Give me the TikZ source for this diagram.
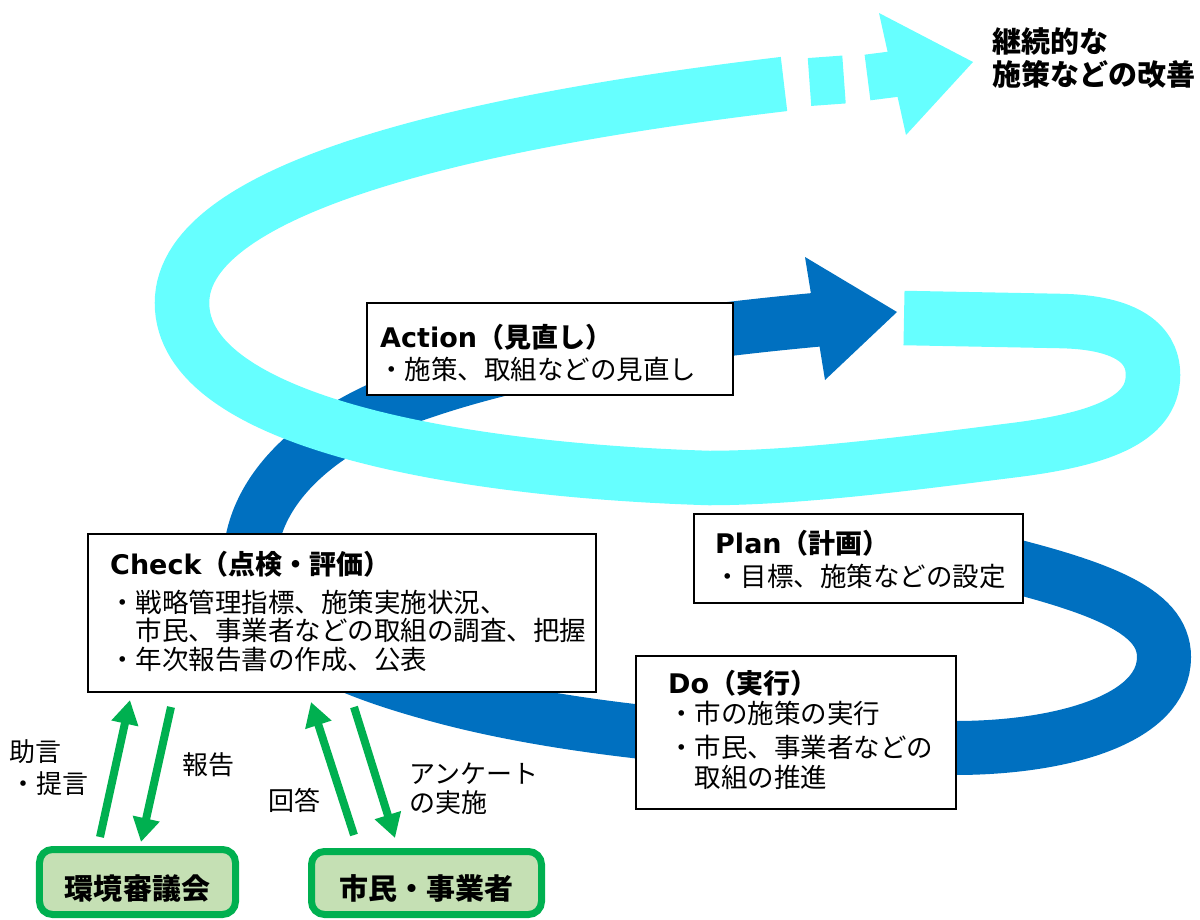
\documentclass[tikz,border=0pt]{standalone}
\usepackage{fontspec}
\setmainfont{Noto Sans CJK JP}
\newfontfamily\lat{DejaVu Sans}
\usetikzlibrary{arrows.meta}
\definecolor{bandblue}{HTML}{0070C0}
\definecolor{bandcyan}{HTML}{66FFFF}
\definecolor{grn}{HTML}{00B050}
\definecolor{grnfill}{HTML}{C5E0B4}
\begin{document}
\begin{tikzpicture}[x=1bp,y=-1bp,
  darkband/.style={draw=bandblue,line width=54bp},
  cyanband/.style={draw=bandcyan,line width=54.5bp},
  infobox/.style={draw=black,line width=2.2bp,fill=white,inner sep=0pt,outer sep=0pt,anchor=north west},
  txt/.style={anchor=base west,inner sep=0pt,font=\fontsize{26.5bp}{28bp}\selectfont},
  ttl/.style={anchor=base west,inner sep=0pt,font=\fontsize{27bp}{28bp}\selectfont\bfseries},
  lbl/.style={anchor=base west,inner sep=0pt,font=\fontsize{26bp}{28bp}\selectfont},
  gtxt/.style={anchor=base,inner sep=0pt,font=\fontsize{29bp}{30bp}\selectfont\bfseries},
  grnbox/.style={draw=grn,line width=7bp,fill=grnfill,rounded corners=13bp,inner sep=0pt},
  grnarrow/.style={draw=grn,line width=8bp,-{Triangle[width=26bp,length=24bp]}},
]
\useasboundingbox (0,0) rectangle (1200,920);

% dark blue PDCA band
\draw[darkband] (960,553) .. controls (1100,585) and (1164,610) .. (1164,657)
  .. controls (1164,720) and (1060,748) .. (955,748)
  .. controls (750,748) and (560,730) .. (430,693)
  .. controls (340,668) and (248,630) .. (250,560)
  .. controls (252,500) and (300,440) .. (400,400)
  .. controls (520,355) and (680,332) .. (825,319);
\fill[bandblue] (805,257) -- (897,312) -- (825,380) -- cycle;

% cyan continuous improvement band
\draw[cyanband] (904,318) -- (1060,321) .. controls (1120,322) and (1153,340) .. (1153,375)
  .. controls (1153,420) and (1100,440) .. (1007,451)
  .. controls (920,462) and (800,478) .. (709,478)
  .. controls (450,470) and (182,420) .. (182,303)
  .. controls (182,185) and (480,120) .. (784,84);
\draw[cyanband,line width=48bp] (809.5,82) -- (844,79.5);
\draw[cyanband,line width=46bp] (867.5,77.5) -- (895,74);
\fill[bandcyan] (879,13) -- (973,62) -- (906,135) -- cycle;

\node[ttl,font=\fontsize{29bp}{30bp}\selectfont\bfseries] (goal1) at (992,52) {継続的な};
\node[ttl,font=\fontsize{29bp}{30bp}\selectfont\bfseries] (goal2) at (992,85) {施策などの改善};

% boxes
\node[infobox,minimum width=366bp,minimum height=92bp] (action) at (367,303) {};
\node[ttl] (actT) at (380,347) {{\lat Action}（見直し）};
\node[txt] (act1) at (378,379) {・施策、取組などの見直し};

\node[infobox,minimum width=508bp,minimum height=158bp] (check) at (88,534) {};
\node[ttl] (chkT) at (110,574) {{\lat Check}（点検・評価）};
\node[txt] (chk1) at (109,612) {・戦略管理指標、施策実施状況、};
\node[txt] (chk2) at (135.5,640) {市民、事業者などの取組の調査、把握};
\node[txt] (chk3) at (109,669) {・年次報告書の作成、公表};

\node[infobox,minimum width=329bp,minimum height=89bp] (plan) at (694,514) {};
\node[ttl] (plnT) at (715,553) {{\lat Plan}（計画）};
\node[txt] (pln1) at (714,586) {・目標、施策などの設定};

\node[infobox,minimum width=320bp,minimum height=153bp] (do) at (636,656) {};
\node[ttl] (doT) at (668,693) {{\lat Do}（実行）};
\node[txt] (do1) at (668,723) {・市の施策の実行};
\node[txt] (do2) at (668,757) {・市民、事業者などの};
\node[txt] (do3) at (694.5,787) {取組の推進};

% green boxes
\node[grnbox,minimum width=196bp,minimum height=65bp] (kankyo) at (137.5,882) {};
\node[gtxt] (kankyoT) at (137.5,899) {環境審議会};
\node[grnbox,minimum width=230bp,minimum height=63bp] (shimin) at (426.5,883) {};
\node[gtxt] (shiminT) at (426.5,899) {市民・事業者};

% green arrows
\coordinate (a1s) at (100,837); \coordinate (a1e) at (130,700);
\coordinate (a2s) at (171,707); \coordinate (a2e) at (141,842);
\coordinate (a3s) at (354,835); \coordinate (a3e) at (311,702);
\coordinate (a4s) at (354,707); \coordinate (a4e) at (395,838);
\draw[grnarrow] (a1s) -- (a1e);
\draw[grnarrow] (a2s) -- (a2e);
\draw[grnarrow] (a3s) -- (a3e);
\draw[grnarrow] (a4s) -- (a4e);

\node[lbl] (l1) at (9,761) {助言};
\node[lbl] (l2) at (10,793) {・提言};
\node[lbl] (l3) at (182,774) {報告};
\node[lbl] (l4) at (268,810) {回答};
\node[lbl] (l5) at (409,783) {アンケート};
\node[lbl] (l6) at (409,812) {の実施};
\end{tikzpicture}
\end{document}
